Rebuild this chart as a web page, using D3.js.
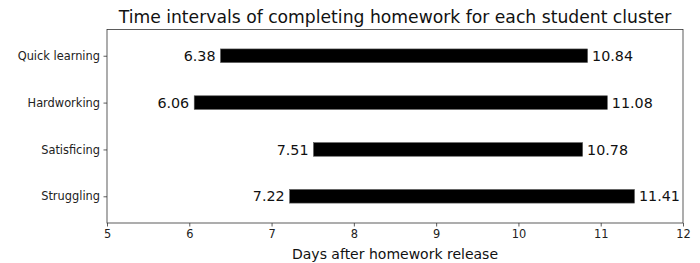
<!DOCTYPE html>
<html><head><meta charset="utf-8">
<script src="https://cdn.jsdelivr.net/npm/d3@7"></script>
<style>body{margin:0;background:#fff}svg{display:block}text{font-family:"DejaVu Sans",sans-serif}</style>
</head><body><svg id="c" width="700" height="263"></svg>
<script>
const categories = ["Quick learning","Hardworking","Satisficing","Struggling"];
const startDays = [6.38, 6.06, 7.51, 7.22];
const endDays = [10.84, 11.08, 10.78, 11.41];
const xTicks = [5,6,7,8,9,10,11,12];
const title = "Time intervals of completing homework for each student cluster";
const xLabel = "Days after homework release";

const svg = d3.select("#c");
const L=107, R=683, T=29.5, B=223;
const x = d3.scaleLinear().domain([5,12]).range([L,R]);
const y = d3.scaleLinear().domain([-0.56,3.57]).range([T,B]);
const barH = 0.29;

const data = categories.map((c,i)=>({c,i,s:startDays[i],e:endDays[i]}));

svg.selectAll("rect.bar").data(data).join("rect").attr("class","bar")
  .attr("x",d=>x(d.s)).attr("width",d=>x(d.e)-x(d.s))
  .attr("y",d=>y(d.i-barH/2)).attr("height",d=>y(d.i+barH/2)-y(d.i-barH/2))
  .attr("fill","#000").attr("stroke","#555").attr("stroke-width",0.6);

svg.selectAll("text.sl").data(data).join("text").attr("class","sl")
  .attr("x",d=>x(d.s)-5).attr("y",d=>y(d.i)).attr("dy","0.36em")
  .attr("text-anchor","end").attr("font-size",14.3).attr("fill","#111").text(d=>d.s.toFixed(2));
svg.selectAll("text.el").data(data).join("text").attr("class","el")
  .attr("x",d=>x(d.e)+4.5).attr("y",d=>y(d.i)).attr("dy","0.36em")
  .attr("text-anchor","start").attr("font-size",14.3).attr("fill","#111").text(d=>d.e.toFixed(2));

const xa = svg.append("g").attr("transform",`translate(0,${B})`)
  .call(d3.axisBottom(x).tickValues(xTicks).tickFormat(d3.format("d")).tickSize(3.5).tickPadding(3));
const ya = svg.append("g").attr("transform",`translate(${L},0)`)
  .call(d3.axisLeft(y).tickValues(d3.range(categories.length)).tickFormat(i=>categories[i]).tickSize(3.5).tickPadding(3.5));
[xa,ya].forEach(a=>{a.select(".domain").remove();a.selectAll("text").attr("font-size",11.4).attr("fill","#222").style("font-family","DejaVu Sans");a.selectAll("line").attr("stroke","#333").attr("stroke-width",0.8);});

svg.append("rect").attr("x",L).attr("y",T).attr("width",R-L).attr("height",B-T)
  .attr("fill","none").attr("stroke","#333").attr("stroke-width",0.8);

svg.append("text").attr("x",(L+R)/2).attr("y",23).attr("text-anchor","middle")
  .attr("font-size",17.2).attr("fill","#111").text(title);
svg.append("text").attr("x",(L+R)/2).attr("y",258.5).attr("text-anchor","middle")
  .attr("font-size",14).attr("fill","#111").text(xLabel);
</script></body></html>
